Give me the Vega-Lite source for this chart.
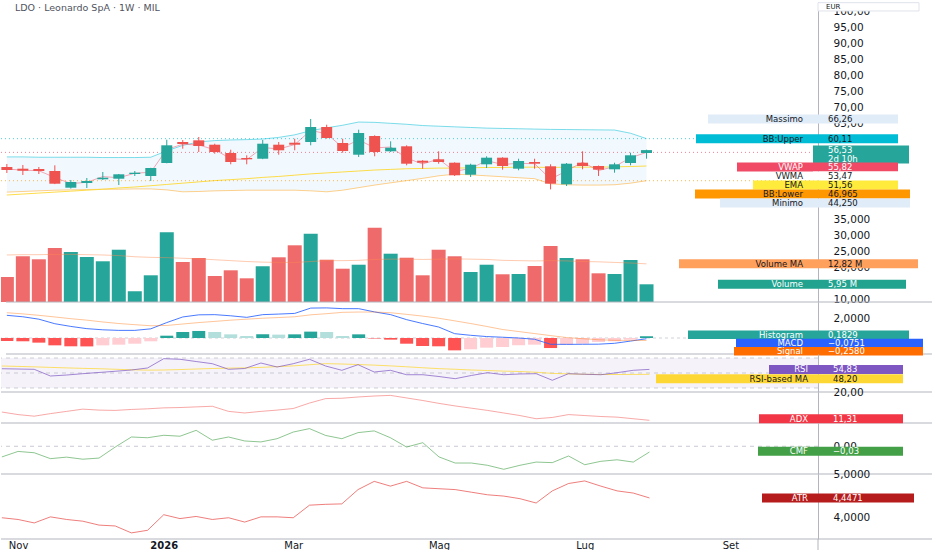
{
"$schema": "https://vega.github.io/schema/vega-lite/v6.json",
"background": "#ffffff",
"padding": 0,
"spacing": 0,
"bounds": "flush",
"config": {"view": {"stroke": null}, "font": "DejaVu Sans", "text": {"font": "DejaVu Sans"},
 "axis": {"title": null, "ticks": false, "grid": false, "domainColor": "#b2b5be", "labelFont": "DejaVu Sans", "labelColor": "#131722", "labelFontSize": 10.5, "labelOverlap": false}},
"resolve": {"scale": {"color": "independent", "fill": "independent", "shape": "independent"}},
"datasets": {
"w": [
{"date":"2025-10-27","open":51.25,"high":52.19,"low":49.38,"close":50.31,"vol":8.4,"vol_ma":15.8,"bb_up":54.4,"bb_lo":43.4,"ema":42.5,"vwap":50.63,"macd":2.35,"signal":2.62,"hist":-0.3,"rsi":55.7,"rsi_ma":59.3,"adx":13.9,"cmf":-0.056,"atr":3.99},
{"date":"2025-11-03","open":50.72,"high":51.88,"low":48.75,"close":50.09,"vol":15.36,"vol_ma":15.9,"bb_up":54.4,"bb_lo":43.6,"ema":42.8,"vwap":50.24,"macd":2.2,"signal":2.5,"hist":-0.34,"rsi":55.3,"rsi_ma":58.8,"adx":13.1,"cmf":-0.027,"atr":3.95},
{"date":"2025-11-10","open":50.63,"high":51.25,"low":49.06,"close":50.0,"vol":14.35,"vol_ma":15.9,"bb_up":54.3,"bb_lo":43.8,"ema":43.1,"vwap":50.1,"macd":1.95,"signal":2.35,"hist":-0.48,"rsi":54.9,"rsi_ma":58.2,"adx":12.6,"cmf":-0.034,"atr":3.87},
{"date":"2025-11-17","open":50.0,"high":51.78,"low":45.9,"close":46.03,"vol":18.14,"vol_ma":16.0,"bb_up":54.3,"bb_lo":44.0,"ema":43.4,"vwap":47.95,"macd":1.48,"signal":2.18,"hist":-0.76,"rsi":46.0,"rsi_ma":57.5,"adx":13.4,"cmf":-0.065,"atr":4.01},
{"date":"2025-11-24","open":44.78,"high":47.19,"low":44.5,"close":46.56,"vol":16.8,"vol_ma":16.0,"bb_up":54.3,"bb_lo":44.1,"ema":43.7,"vwap":46.08,"macd":1.2,"signal":2.0,"hist":-0.86,"rsi":47.3,"rsi_ma":56.8,"adx":14.1,"cmf":-0.057,"atr":3.95},
{"date":"2025-12-01","open":46.25,"high":47.81,"low":44.69,"close":46.88,"vol":15.12,"vol_ma":15.9,"bb_up":54.3,"bb_lo":44.2,"ema":44.0,"vwap":46.46,"macd":0.97,"signal":1.85,"hist":-0.87,"rsi":49.1,"rsi_ma":56.2,"adx":14.8,"cmf":-0.068,"atr":3.91},
{"date":"2025-12-08","open":47.41,"high":49.69,"low":47.19,"close":47.91,"vol":13.68,"vol_ma":15.8,"bb_up":54.2,"bb_lo":44.3,"ema":44.3,"vwap":48.26,"macd":0.85,"signal":1.66,"hist":-0.76,"rsi":50.7,"rsi_ma":55.7,"adx":14.5,"cmf":-0.062,"atr":3.82},
{"date":"2025-12-15","open":47.59,"high":49.06,"low":45.63,"close":48.97,"vol":17.57,"vol_ma":15.6,"bb_up":54.2,"bb_lo":44.3,"ema":44.7,"vwap":47.89,"macd":0.79,"signal":1.5,"hist":-0.69,"rsi":52.3,"rsi_ma":55.0,"adx":14.4,"cmf":-0.004,"atr":3.8},
{"date":"2025-12-22","open":49.06,"high":50.0,"low":48.44,"close":49.47,"vol":3.6,"vol_ma":15.2,"bb_up":54.2,"bb_lo":44.4,"ema":45.0,"vwap":49.3,"macd":0.79,"signal":1.38,"hist":-0.59,"rsi":54.0,"rsi_ma":54.3,"adx":14.7,"cmf":0.049,"atr":3.64},
{"date":"2025-12-29","open":48.44,"high":51.0,"low":46.88,"close":50.94,"vol":8.97,"vol_ma":15.0,"bb_up":54.3,"bb_lo":44.4,"ema":45.4,"vwap":49.61,"macd":0.95,"signal":1.27,"hist":-0.34,"rsi":56.7,"rsi_ma":53.8,"adx":14.9,"cmf":0.045,"atr":3.7},
{"date":"2026-01-05","open":52.5,"high":59.78,"low":52.4,"close":58.03,"vol":23.42,"vol_ma":14.9,"bb_up":56.3,"bb_lo":44.1,"ema":45.8,"vwap":56.77,"macd":1.6,"signal":1.3,"hist":0.24,"rsi":69.1,"rsi_ma":54.0,"adx":15.2,"cmf":0.058,"atr":4.06},
{"date":"2026-01-12","open":59.06,"high":59.69,"low":56.97,"close":58.44,"vol":13.44,"vol_ma":14.7,"bb_up":58.0,"bb_lo":43.5,"ema":46.2,"vwap":58.37,"macd":2.18,"signal":1.45,"hist":0.62,"rsi":68.3,"rsi_ma":54.6,"adx":15.3,"cmf":0.053,"atr":3.97},
{"date":"2026-01-19","open":59.59,"high":60.63,"low":55.94,"close":57.81,"vol":14.78,"vol_ma":14.5,"bb_up":59.1,"bb_lo":43.6,"ema":46.6,"vwap":58.13,"macd":2.4,"signal":1.6,"hist":0.73,"rsi":65.3,"rsi_ma":55.3,"adx":15.5,"cmf":0.084,"atr":4.02},
{"date":"2026-01-26","open":58.22,"high":58.53,"low":55.41,"close":55.94,"vol":8.74,"vol_ma":14.2,"bb_up":59.5,"bb_lo":43.8,"ema":47.0,"vwap":56.63,"macd":2.42,"signal":1.72,"hist":0.62,"rsi":62.4,"rsi_ma":56.0,"adx":15.7,"cmf":0.032,"atr":3.95},
{"date":"2026-02-02","open":55.63,"high":56.66,"low":52.09,"close":52.81,"vol":10.65,"vol_ma":13.9,"bb_up":59.7,"bb_lo":43.9,"ema":47.3,"vwap":53.85,"macd":2.3,"signal":1.85,"hist":0.38,"rsi":54.9,"rsi_ma":56.5,"adx":14.1,"cmf":0.049,"atr":3.99},
{"date":"2026-02-09","open":54.06,"high":54.91,"low":52.09,"close":53.66,"vol":7.96,"vol_ma":13.6,"bb_up":59.8,"bb_lo":44.0,"ema":47.6,"vwap":53.55,"macd":2.14,"signal":1.95,"hist":0.21,"rsi":56.0,"rsi_ma":56.8,"adx":13.6,"cmf":0.028,"atr":3.89},
{"date":"2026-02-16","open":53.84,"high":59.69,"low":53.7,"close":58.53,"vol":12.0,"vol_ma":13.4,"bb_up":60.0,"bb_lo":44.0,"ema":48.0,"vwap":57.35,"macd":2.42,"signal":2.05,"hist":0.38,"rsi":63.3,"rsi_ma":57.5,"adx":14.1,"cmf":0.023,"atr":4.01},
{"date":"2026-02-23","open":58.22,"high":59.06,"low":55.09,"close":56.47,"vol":15.02,"vol_ma":13.3,"bb_up":60.5,"bb_lo":44.0,"ema":48.3,"vwap":56.87,"macd":2.48,"signal":2.12,"hist":0.35,"rsi":58.0,"rsi_ma":58.5,"adx":14.5,"cmf":0.04,"atr":4.01},
{"date":"2026-03-02","open":58.84,"high":60.09,"low":56.47,"close":58.22,"vol":19.05,"vol_ma":13.3,"bb_up":61.3,"bb_lo":44.0,"ema":48.7,"vwap":58.26,"macd":2.55,"signal":2.2,"hist":0.38,"rsi":62.4,"rsi_ma":59.5,"adx":15.0,"cmf":0.075,"atr":3.99},
{"date":"2026-03-09","open":59.06,"high":66.26,"low":58.03,"close":63.75,"vol":22.95,"vol_ma":13.6,"bb_up":62.6,"bb_lo":43.8,"ema":49.1,"vwap":62.68,"macd":3.1,"signal":2.4,"hist":0.66,"rsi":68.3,"rsi_ma":61.0,"adx":16.7,"cmf":0.093,"atr":4.28},
{"date":"2026-03-16","open":63.75,"high":64.47,"low":60.09,"close":60.31,"vol":14.21,"vol_ma":13.9,"bb_up":63.5,"bb_lo":43.5,"ema":49.4,"vwap":61.62,"macd":3.12,"signal":2.52,"hist":0.62,"rsi":59.3,"rsi_ma":62.5,"adx":18.1,"cmf":0.057,"atr":4.3},
{"date":"2026-03-23","open":58.75,"high":60.09,"low":55.72,"close":56.25,"vol":11.19,"vol_ma":13.9,"bb_up":64.3,"bb_lo":44.0,"ema":49.7,"vwap":57.35,"macd":3.04,"signal":2.66,"hist":0.21,"rsi":53.6,"rsi_ma":62.0,"adx":18.2,"cmf":0.04,"atr":4.31},
{"date":"2026-03-30","open":55.09,"high":62.91,"low":54.38,"close":61.88,"vol":12.53,"vol_ma":14.0,"bb_up":65.3,"bb_lo":44.8,"ema":50.0,"vwap":59.72,"macd":3.04,"signal":2.69,"hist":0.38,"rsi":61.1,"rsi_ma":61.3,"adx":18.6,"cmf":0.072,"atr":4.64},
{"date":"2026-04-06","open":60.94,"high":61.16,"low":54.59,"close":55.94,"vol":24.96,"vol_ma":14.3,"bb_up":65.2,"bb_lo":45.6,"ema":50.3,"vwap":57.23,"macd":2.7,"signal":2.69,"hist":-0.05,"rsi":51.3,"rsi_ma":60.5,"adx":18.9,"cmf":0.081,"atr":4.83},
{"date":"2026-04-13","open":56.16,"high":59.28,"low":55.94,"close":57.28,"vol":16.23,"vol_ma":14.4,"bb_up":64.9,"bb_lo":46.3,"ema":50.5,"vwap":57.5,"macd":2.42,"signal":2.62,"hist":-0.17,"rsi":53.6,"rsi_ma":59.5,"adx":19.1,"cmf":0.045,"atr":4.72},
{"date":"2026-04-20","open":57.72,"high":58.03,"low":51.78,"close":52.28,"vol":14.88,"vol_ma":14.4,"bb_up":64.6,"bb_lo":47.0,"ema":50.7,"vwap":54.03,"macd":1.9,"signal":2.45,"hist":-0.59,"rsi":47.7,"rsi_ma":58.3,"adx":18.3,"cmf":-0.004,"atr":4.83},
{"date":"2026-04-27","open":53.22,"high":53.4,"low":50.72,"close":52.59,"vol":8.97,"vol_ma":14.3,"bb_up":64.2,"bb_lo":47.7,"ema":50.8,"vwap":52.18,"macd":1.5,"signal":2.27,"hist":-0.83,"rsi":47.7,"rsi_ma":57.0,"adx":17.5,"cmf":0.019,"atr":4.68},
{"date":"2026-05-04","open":53.66,"high":56.16,"low":52.28,"close":52.81,"vol":17.57,"vol_ma":14.4,"bb_up":64.0,"bb_lo":48.5,"ema":50.9,"vwap":53.75,"macd":1.14,"signal":2.05,"hist":-0.86,"rsi":45.3,"rsi_ma":55.8,"adx":16.6,"cmf":-0.056,"atr":4.66},
{"date":"2026-05-11","open":52.59,"high":52.7,"low":48.44,"close":48.66,"vol":15.36,"vol_ma":14.5,"bb_up":63.8,"bb_lo":49.0,"ema":50.9,"vwap":49.9,"macd":0.45,"signal":1.78,"hist":-1.28,"rsi":42.4,"rsi_ma":55.0,"adx":15.8,"cmf":-0.088,"atr":4.64},
{"date":"2026-05-18","open":48.84,"high":52.28,"low":48.13,"close":51.97,"vol":10.08,"vol_ma":14.4,"bb_up":63.6,"bb_lo":48.8,"ema":51.0,"vwap":50.79,"macd":0.28,"signal":1.5,"hist":-1.17,"rsi":46.7,"rsi_ma":54.0,"adx":15.1,"cmf":-0.088,"atr":4.58},
{"date":"2026-05-25","open":52.09,"high":54.59,"low":50.94,"close":54.16,"vol":12.53,"vol_ma":14.3,"bb_up":63.4,"bb_lo":48.5,"ema":51.1,"vwap":53.23,"macd":0.15,"signal":1.2,"hist":-1.0,"rsi":50.4,"rsi_ma":53.3,"adx":14.4,"cmf":-0.1,"atr":4.52},
{"date":"2026-06-01","open":54.16,"high":54.3,"low":50.41,"close":51.56,"vol":9.31,"vol_ma":14.0,"bb_up":63.3,"bb_lo":48.2,"ema":51.1,"vwap":52.04,"macd":0.08,"signal":0.88,"hist":-0.93,"rsi":47.7,"rsi_ma":52.5,"adx":13.6,"cmf":-0.121,"atr":4.49},
{"date":"2026-06-08","open":50.72,"high":53.84,"low":50.22,"close":53.13,"vol":9.41,"vol_ma":13.9,"bb_up":63.2,"bb_lo":47.9,"ema":51.2,"vwap":52.4,"macd":0.0,"signal":0.67,"hist":-0.76,"rsi":48.7,"rsi_ma":52.0,"adx":12.8,"cmf":-0.1,"atr":4.43},
{"date":"2026-06-15","open":52.81,"high":53.84,"low":50.72,"close":52.28,"vol":12.1,"vol_ma":13.8,"bb_up":63.1,"bb_lo":47.6,"ema":51.2,"vwap":52.28,"macd":-0.13,"signal":0.46,"hist":-0.69,"rsi":49.1,"rsi_ma":51.0,"adx":11.8,"cmf":-0.083,"atr":4.33},
{"date":"2026-06-22","open":51.47,"high":52.09,"low":44.25,"close":46.03,"vol":18.82,"vol_ma":13.9,"bb_up":63.0,"bb_lo":46.0,"ema":51.1,"vwap":47.46,"macd":-0.65,"signal":0.25,"hist":-1.04,"rsi":40.3,"rsi_ma":49.5,"adx":12.2,"cmf":-0.086,"atr":4.61},
{"date":"2026-06-29","open":45.84,"high":52.5,"low":45.31,"close":52.28,"vol":14.78,"vol_ma":13.8,"bb_up":62.95,"bb_lo":45.7,"ema":51.2,"vwap":50.03,"macd":-0.66,"signal":0.05,"hist":-0.69,"rsi":49.1,"rsi_ma":48.8,"adx":13.1,"cmf":-0.051,"atr":4.78},
{"date":"2026-07-06","open":52.59,"high":56.16,"low":50.53,"close":51.56,"vol":14.35,"vol_ma":13.6,"bb_up":62.9,"bb_lo":45.6,"ema":51.2,"vwap":52.75,"macd":-0.65,"signal":-0.07,"hist":-0.59,"rsi":48.3,"rsi_ma":48.3,"adx":12.8,"cmf":-0.097,"atr":4.84},
{"date":"2026-07-13","open":51.56,"high":51.7,"low":48.44,"close":50.41,"vol":9.64,"vol_ma":13.5,"bb_up":62.85,"bb_lo":45.6,"ema":51.2,"vwap":50.14,"macd":-0.64,"signal":-0.18,"hist":-0.41,"rsi":47.7,"rsi_ma":48.0,"adx":12.5,"cmf":-0.079,"atr":4.72},
{"date":"2026-07-20","open":50.53,"high":52.59,"low":49.47,"close":52.09,"vol":9.41,"vol_ma":13.3,"bb_up":62.8,"bb_lo":45.7,"ema":51.3,"vwap":51.38,"macd":-0.55,"signal":-0.24,"hist":-0.34,"rsi":50.4,"rsi_ma":48.0,"adx":12.3,"cmf":-0.071,"atr":4.61},
{"date":"2026-07-27","open":52.5,"high":55.72,"low":51.78,"close":54.91,"vol":14.11,"vol_ma":13.1,"bb_up":61.8,"bb_lo":46.2,"ema":51.4,"vwap":54.14,"macd":-0.32,"signal":-0.25,"hist":-0.17,"rsi":53.6,"rsi_ma":48.1,"adx":11.8,"cmf":-0.083,"atr":4.56},
{"date":"2026-08-03","open":55.63,"high":56.66,"low":53.84,"close":56.53,"vol":5.95,"vol_ma":12.82,"bb_up":60.11,"bb_lo":46.965,"ema":51.56,"vwap":55.82,"macd":-0.0751,"signal":-0.258,"hist":0.1829,"rsi":54.83,"rsi_ma":48.2,"adx":11.31,"cmf":-0.03,"atr":4.4471}
],
"tags": [
{"pane":"price","name":"Massimo","value":66.26,"label":"66,26","at":66.26},
{"pane":"price","name":"BB:Upper","value":60.11,"label":"60,11","at":60.11},
{"pane":"price","name":"Last","value":56.53,"label":"56,53","sub":"2d 10h","at":56.53},
{"pane":"price","name":"VWAP","value":55.82,"label":"55,82","at":51.25},
{"pane":"price","name":"VWMA","value":53.47,"label":"53,47","at":48.44},
{"pane":"price","name":"EMA","value":51.56,"label":"51,56","at":45.63},
{"pane":"price","name":"BB:Lower","value":46.965,"label":"46,965","at":42.81},
{"pane":"price","name":"Minimo","value":44.25,"label":"44,250","at":40.0},
{"pane":"volume","name":"Volume MA","value":12.82,"label":"12,82 M","at":12.82},
{"pane":"volume","name":"Volume","value":5.95,"label":"5,95 M","at":5.95},
{"pane":"macd","name":"Histogram","value":0.1829,"label":"0,1829","at":0.33},
{"pane":"macd","name":"MACD","value":-0.0751,"label":"−0,0751","at":-0.5},
{"pane":"macd","name":"Signal","value":-0.258,"label":"−0,2580","at":-1.38},
{"pane":"rsi","name":"RSI","value":54.83,"label":"54,83","at":54.83},
{"pane":"rsi","name":"RSI-based MA","value":48.2,"label":"48,20","at":42.4},
{"pane":"adx","name":"ADX","value":11.31,"label":"11,31","at":11.8},
{"pane":"cmf","name":"CMF","value":-0.03,"label":"−0,03","at":-0.026},
{"pane":"atr","name":"ATR","value":4.4471,"label":"4,4471","at":4.4471}
],
"levels": [{"level":70},{"level":50},{"level":30}]
},
"vconcat": [
{
"width": 817, "height": 300,
"resolve": {"scale": {"y": "independent", "fill": "independent", "shape": "independent", "color": "independent"}, "axis": {"y": "independent"}},
"layer": [
{
"data": {"name": "w"},
"layer": [
{"mark": {"type": "bar", "size": 14, "clip": true},
 "encoding": {"x": {"field":"date","type":"temporal","scale":{"type":"utc","domain":[{"year":2025,"month":10,"date":26,"hours":15,"utc":true},{"year":2026,"month":10,"date":14,"hours":21,"utc":true}]},"axis":null},
  "y": {"field": "vol", "type": "quantitative", "scale": {"domain": [0, 100.8], "nice": false, "zero": false}, "axis": null},
  "color": {"condition": {"test": "datum.close >= datum.open", "value": "#26a69a"}, "value": "#ef6a6a"}}},
{"mark": {"type": "line", "color": "#ff8a50", "opacity": 0.45, "strokeWidth": 1, "clip": true},
 "encoding": {"x": {"field":"date","type":"temporal","scale":{"type":"utc","domain":[{"year":2025,"month":10,"date":26,"hours":15,"utc":true},{"year":2026,"month":10,"date":14,"hours":21,"utc":true}]},"axis":null},
  "y": {"field": "vol_ma", "type": "quantitative", "scale": {"domain": [0, 100.8], "nice": false, "zero": false}, "axis": null}}},
{"data": {"name": "tags"}, "transform": [{"filter": "datum.pane == 'volume'"}],
 "mark": {"type": "point", "filled": true, "size": 4, "opacity": 1, "strokeWidth": 0, "clip": false},
 "encoding": {"x": {"datum":{"year":2026,"month":10,"date":14,"hours":21,"utc":true},"type":"temporal","scale":{"type":"utc","domain":[{"year":2025,"month":10,"date":26,"hours":15,"utc":true},{"year":2026,"month":10,"date":14,"hours":21,"utc":true}]},"axis":null},
  "y": {"field": "at", "type": "quantitative", "scale": {"domain": [0, 100.8], "nice": false, "zero": false}, "axis": null},
  "shape": {"field": "name", "type": "nominal", "scale": {"domain": ["Volume MA", "Volume"], "range": ["M-134,-4.5H105V4.5H-134Z", "M-95,-4.5H93V4.5H-95Z"]}, "legend": null},
  "fill": {"field": "name", "type": "nominal", "scale": {"domain": ["Volume MA", "Volume"], "range": ["#ffa05c", "#22a38f"]}, "legend": null}}},
{"data": {"name": "tags"}, "transform": [{"filter": "datum.pane == 'volume'"}],
 "mark": {"type": "text", "align": "right", "baseline": "middle", "dx": -10, "fontSize": 8.5, "clip": false},
 "encoding": {"x": {"datum":{"year":2026,"month":10,"date":14,"hours":21,"utc":true},"type":"temporal","scale":{"type":"utc","domain":[{"year":2025,"month":10,"date":26,"hours":15,"utc":true},{"year":2026,"month":10,"date":14,"hours":21,"utc":true}]},"axis":null},
  "y": {"field": "at", "type": "quantitative", "scale": {"domain": [0, 100.8], "nice": false, "zero": false}, "axis": null},
  "text": {"field": "name"},
  "color": {"condition": {"test": "datum.name == 'Volume MA'", "value": "#131722"}, "value": "#ffffff"}}},
{"data": {"name": "tags"}, "transform": [{"filter": "datum.pane == 'volume'"}],
 "mark": {"type": "text", "align": "left", "baseline": "middle", "dx": 15, "fontSize": 8.5, "clip": false},
 "encoding": {"x": {"datum":{"year":2026,"month":10,"date":14,"hours":21,"utc":true},"type":"temporal","scale":{"type":"utc","domain":[{"year":2025,"month":10,"date":26,"hours":15,"utc":true},{"year":2026,"month":10,"date":14,"hours":21,"utc":true}]},"axis":null},
  "y": {"field": "at", "type": "quantitative", "scale": {"domain": [0, 100.8], "nice": false, "zero": false}, "axis": null},
  "text": {"field": "label"},
  "color": {"condition": {"test": "datum.name == 'Volume MA'", "value": "#131722"}, "value": "#ffffff"}}}
]
},
{
"data": {"name": "w"},
"resolve": {"scale": {"y": "independent"}, "axis": {"y": "independent"}},
"layer": [
{"mark": {"type": "area", "color": "#2196f3", "opacity": 0.06, "clip": true},
 "encoding": {"x": {"field":"date","type":"temporal","scale":{"type":"utc","domain":[{"year":2025,"month":10,"date":26,"hours":15,"utc":true},{"year":2026,"month":10,"date":14,"hours":21,"utc":true}]},"axis":null},
  "y": {"field": "bb_up", "type": "quantitative", "scale": {"domain": [9.0625, 102.8125], "nice": false, "zero": false},
   "axis": {"orient": "right", "values": [100,95,90,85,80,75,70,65,35,30,25,20,10], "labelExpr": "replace(format(datum.value, datum.value >= 40 ? '.2f' : '.3f'), '.', ',')", "title": null, "ticks": false, "grid": false, "domainColor": "#b2b5be", "labelPadding": 15, "labelFontSize": 10.5, "labelColor": "#131722", "labelAlign": "left", "labelOverlap": false, "labelFont": "DejaVu Sans"}},
  "y2": {"field": "bb_lo"}}},
{"mark": {"type": "line", "color": "#26c6da", "opacity": 0.6, "strokeWidth": 1, "clip": true},
 "encoding": {"x": {"field":"date","type":"temporal","scale":{"type":"utc","domain":[{"year":2025,"month":10,"date":26,"hours":15,"utc":true},{"year":2026,"month":10,"date":14,"hours":21,"utc":true}]},"axis":null},
  "y": {"field": "bb_up", "type": "quantitative", "scale": {"domain": [9.0625, 102.8125], "nice": false, "zero": false}, "axis": null}}},
{"mark": {"type": "line", "color": "#ff9800", "opacity": 0.45, "strokeWidth": 1, "clip": true},
 "encoding": {"x": {"field":"date","type":"temporal","scale":{"type":"utc","domain":[{"year":2025,"month":10,"date":26,"hours":15,"utc":true},{"year":2026,"month":10,"date":14,"hours":21,"utc":true}]},"axis":null},
  "y": {"field": "bb_lo", "type": "quantitative", "scale": {"domain": [9.0625, 102.8125], "nice": false, "zero": false}, "axis": null}}},
{"mark": {"type": "line", "color": "#fdd835", "opacity": 0.9, "strokeWidth": 1, "clip": true},
 "encoding": {"x": {"field":"date","type":"temporal","scale":{"type":"utc","domain":[{"year":2025,"month":10,"date":26,"hours":15,"utc":true},{"year":2026,"month":10,"date":14,"hours":21,"utc":true}]},"axis":null},
  "y": {"field": "ema", "type": "quantitative", "scale": {"domain": [9.0625, 102.8125], "nice": false, "zero": false}, "axis": null}}},
{"mark": {"type": "line", "color": "#ef5f7a", "opacity": 0.55, "strokeWidth": 1, "clip": true},
 "encoding": {"x": {"field":"date","type":"temporal","scale":{"type":"utc","domain":[{"year":2025,"month":10,"date":26,"hours":15,"utc":true},{"year":2026,"month":10,"date":14,"hours":21,"utc":true}]},"axis":null},
  "y": {"field": "vwap", "type": "quantitative", "scale": {"domain": [9.0625, 102.8125], "nice": false, "zero": false}, "axis": null}}},
{"data": {"name": "tags"}, "transform": [{"filter": "indexof(['BB:Upper','VWAP','BB:Lower'], datum.name) >= 0"}],
 "mark": {"type": "rule", "strokeDash": [1, 3], "strokeWidth": 1, "opacity": 0.7},
 "encoding": {"y": {"field": "value", "type": "quantitative", "scale": {"domain": [9.0625, 102.8125], "nice": false, "zero": false}, "axis": null},
  "color": {"field": "name", "type": "nominal", "scale": {"domain": ["BB:Upper", "VWAP", "BB:Lower"], "range": ["#00bcd4", "#f04a67", "#ff9800"]}, "legend": null}}},
{"mark": {"type": "rule", "strokeWidth": 1, "clip": true},
 "encoding": {"x": {"field":"date","type":"temporal","scale":{"type":"utc","domain":[{"year":2025,"month":10,"date":26,"hours":15,"utc":true},{"year":2026,"month":10,"date":14,"hours":21,"utc":true}]},"axis":null},
  "y": {"field": "low", "type": "quantitative", "scale": {"domain": [9.0625, 102.8125], "nice": false, "zero": false}, "axis": null},
  "y2": {"field": "high"},
  "color": {"condition": {"test": "datum.close >= datum.open", "value": "#26a69a"}, "value": "#ef5350"}}},
{"mark": {"type": "bar", "size": 11, "clip": true},
 "encoding": {"x": {"field":"date","type":"temporal","scale":{"type":"utc","domain":[{"year":2025,"month":10,"date":26,"hours":15,"utc":true},{"year":2026,"month":10,"date":14,"hours":21,"utc":true}]},"axis":null},
  "y": {"field": "open", "type": "quantitative", "scale": {"domain": [9.0625, 102.8125], "nice": false, "zero": false}, "axis": null},
  "y2": {"field": "close"},
  "color": {"condition": {"test": "datum.close >= datum.open", "value": "#26a69a"}, "value": "#ef5350"}}},
{"data": {"values": [{}]}, "mark": {"type": "rule", "color": "#b2b5be", "strokeWidth": 1, "clip": false},
 "encoding": {"x": {"datum":{"year":2025,"month":10,"date":26,"hours":15,"utc":true},"type":"temporal","scale":{"type":"utc","domain":[{"year":2025,"month":10,"date":26,"hours":15,"utc":true},{"year":2026,"month":10,"date":14,"hours":21,"utc":true}]},"axis":null},
  "x2": {"datum": {"year":2026,"month":12,"date":8,"utc":true}},
  "y": {"datum": 9.0625, "type": "quantitative", "scale": {"domain": [9.0625, 102.8125], "nice": false, "zero": false}, "axis": null}}},
{"data": {"values": [{"t": "LDO · Leonardo SpA · 1W · MIL"}]},
 "mark": {"type": "text", "align": "left", "baseline": "middle", "dx": 9, "fontSize": 9.5, "color": "#50535e", "clip": false},
 "encoding": {"x": {"datum":{"year":2025,"month":10,"date":26,"hours":15,"utc":true},"type":"temporal","scale":{"type":"utc","domain":[{"year":2025,"month":10,"date":26,"hours":15,"utc":true},{"year":2026,"month":10,"date":14,"hours":21,"utc":true}]},"axis":null},
  "y": {"datum": 100.8, "type": "quantitative", "scale": {"domain": [9.0625, 102.8125], "nice": false, "zero": false}, "axis": null},
  "text": {"field": "t"}}},
{"data": {"values": [{"t": "EUR"}]},
 "mark": {"type": "point", "shape": "M5,-4H106V4.3H5Z", "size": 4, "fill": "#ffffff", "stroke": "#e0e3eb", "strokeWidth": 1, "opacity": 1, "clip": false},
 "encoding": {"x": {"datum":{"year":2026,"month":10,"date":14,"hours":21,"utc":true},"type":"temporal","scale":{"type":"utc","domain":[{"year":2025,"month":10,"date":26,"hours":15,"utc":true},{"year":2026,"month":10,"date":14,"hours":21,"utc":true}]},"axis":null},
  "y": {"datum": 101.35, "type": "quantitative", "scale": {"domain": [9.0625, 102.8125], "nice": false, "zero": false}, "axis": null}}},
{"data": {"values": [{"t": "EUR"}]},
 "mark": {"type": "text", "align": "left", "baseline": "middle", "dx": 13, "fontSize": 7, "color": "#131722", "clip": false},
 "encoding": {"x": {"datum":{"year":2026,"month":10,"date":14,"hours":21,"utc":true},"type":"temporal","scale":{"type":"utc","domain":[{"year":2025,"month":10,"date":26,"hours":15,"utc":true},{"year":2026,"month":10,"date":14,"hours":21,"utc":true}]},"axis":null},
  "y": {"datum": 101.35, "type": "quantitative", "scale": {"domain": [9.0625, 102.8125], "nice": false, "zero": false}, "axis": null},
  "text": {"field": "t"}}},
{"data": {"name": "tags"}, "transform": [{"filter": "datum.pane == 'price'"}],
 "mark": {"type": "point", "filled": true, "size": 4, "opacity": 1, "strokeWidth": 0, "clip": false},
 "encoding": {"x": {"datum":{"year":2026,"month":10,"date":14,"hours":21,"utc":true},"type":"temporal","scale":{"type":"utc","domain":[{"year":2025,"month":10,"date":26,"hours":15,"utc":true},{"year":2026,"month":10,"date":14,"hours":21,"utc":true}]},"axis":null},
  "y": {"field": "at", "type": "quantitative", "scale": {"domain": [9.0625, 102.8125], "nice": false, "zero": false}, "axis": null},
  "shape": {"field": "name", "type": "nominal", "scale": {"domain": ["Massimo","BB:Upper","Last","VWAP","VWMA","EMA","BB:Lower","Minimo"], "range": ["M-105,-4.5H85V4.5H-105Z","M-117,-4.5H85V4.5H-117Z","M0,-4.5H96V13.5H0Z","M-76,-4.5H85V4.5H-76Z","M0,-4.5H85V4.5H0Z","M-60,-4.5H85V4.5H-60Z","M-118,-4.5H97V4.5H-118Z","M-93,-4.5H97V4.5H-93Z"]}, "legend": null},
  "fill": {"field": "name", "type": "nominal", "scale": {"domain": ["Massimo","BB:Upper","Last","VWAP","VWMA","EMA","BB:Lower","Minimo"], "range": ["#e1ecf9","#00bcd4","#26a69a","#f04a67","#ffffff","#ffeb3b","#ff9800","#e1ecf9"]}, "legend": null}}},
{"data": {"name": "tags"}, "transform": [{"filter": "datum.pane == 'price' && datum.name != 'Last'"}],
 "mark": {"type": "text", "align": "right", "baseline": "middle", "dx": -10, "fontSize": 8.5, "clip": false},
 "encoding": {"x": {"datum":{"year":2026,"month":10,"date":14,"hours":21,"utc":true},"type":"temporal","scale":{"type":"utc","domain":[{"year":2025,"month":10,"date":26,"hours":15,"utc":true},{"year":2026,"month":10,"date":14,"hours":21,"utc":true}]},"axis":null},
  "y": {"field": "at", "type": "quantitative", "scale": {"domain": [9.0625, 102.8125], "nice": false, "zero": false}, "axis": null},
  "text": {"field": "name"},
  "color": {"condition": {"test": "datum.name == 'VWAP'", "value": "#ffffff"}, "value": "#131722"}}},
{"data": {"name": "tags"}, "transform": [{"filter": "datum.pane == 'price'"}],
 "mark": {"type": "text", "align": "left", "baseline": "middle", "dx": 15, "fontSize": 8.5, "clip": false},
 "encoding": {"x": {"datum":{"year":2026,"month":10,"date":14,"hours":21,"utc":true},"type":"temporal","scale":{"type":"utc","domain":[{"year":2025,"month":10,"date":26,"hours":15,"utc":true},{"year":2026,"month":10,"date":14,"hours":21,"utc":true}]},"axis":null},
  "y": {"field": "at", "type": "quantitative", "scale": {"domain": [9.0625, 102.8125], "nice": false, "zero": false}, "axis": null},
  "text": {"field": "label"},
  "color": {"condition": {"test": "datum.name == 'VWAP' || datum.name == 'Last'", "value": "#ffffff"}, "value": "#131722"}}},
{"data": {"name": "tags"}, "transform": [{"filter": "datum.pane == 'price' && isValid(datum.sub)"}],
 "mark": {"type": "text", "align": "left", "baseline": "middle", "dx": 15, "dy": 9, "fontSize": 8.5, "color": "#ffffff", "clip": false},
 "encoding": {"x": {"datum":{"year":2026,"month":10,"date":14,"hours":21,"utc":true},"type":"temporal","scale":{"type":"utc","domain":[{"year":2025,"month":10,"date":26,"hours":15,"utc":true},{"year":2026,"month":10,"date":14,"hours":21,"utc":true}]},"axis":null},
  "y": {"field": "at", "type": "quantitative", "scale": {"domain": [9.0625, 102.8125], "nice": false, "zero": false}, "axis": null},
  "text": {"field": "sub"}}}
]
}
]
},
{
"width": 817, "height": 52,
"data": {"name": "w"},
"transform": [{"window": [{"op": "lag", "field": "hist", "as": "prev"}], "sort": [{"field": "date", "order": "ascending"}]}],
"layer": [
{"data": {"values": [{}]}, "mark": {"type": "rule", "color": "#b2b5be", "strokeDash": [3, 3], "strokeWidth": 1, "opacity": 0.6},
 "encoding": {"y": {"datum": 0, "type": "quantitative", "scale": {"domain": [-1.658, 3.731], "nice": false, "zero": false},
   "axis": {"orient": "right", "values": [2], "labelExpr": "replace(format(datum.value, '.4f'), '.', ',')", "title": null, "ticks": false, "grid": false, "domainColor": "#b2b5be", "labelPadding": 15, "labelFontSize": 10.5, "labelColor": "#131722", "labelAlign": "left", "labelOverlap": false, "labelFont": "DejaVu Sans"}}}},
{"mark": {"type": "bar", "size": 13, "clip": true},
 "encoding": {"x": {"field":"date","type":"temporal","scale":{"type":"utc","domain":[{"year":2025,"month":10,"date":26,"hours":15,"utc":true},{"year":2026,"month":10,"date":14,"hours":21,"utc":true}]},"axis":null},
  "y": {"field": "hist", "type": "quantitative", "scale": {"domain": [-1.658, 3.731], "nice": false, "zero": false}},
  "y2": {"datum": 0},
  "color": {"condition": [{"test": "datum.hist >= 0 && datum.hist >= datum.prev", "value": "#26a69a"}, {"test": "datum.hist >= 0", "value": "#b2dfdb"}, {"test": "datum.hist < datum.prev", "value": "#ff5252"}], "value": "#ffcdd2"}}},
{"mark": {"type": "line", "color": "#2962ff", "opacity": 0.85, "strokeWidth": 1, "clip": true},
 "encoding": {"x": {"field":"date","type":"temporal","scale":{"type":"utc","domain":[{"year":2025,"month":10,"date":26,"hours":15,"utc":true},{"year":2026,"month":10,"date":14,"hours":21,"utc":true}]},"axis":null},
  "y": {"field": "macd", "type": "quantitative", "scale": {"domain": [-1.658, 3.731], "nice": false, "zero": false}}}},
{"mark": {"type": "line", "color": "#ff6d00", "opacity": 0.4, "strokeWidth": 1, "clip": true},
 "encoding": {"x": {"field":"date","type":"temporal","scale":{"type":"utc","domain":[{"year":2025,"month":10,"date":26,"hours":15,"utc":true},{"year":2026,"month":10,"date":14,"hours":21,"utc":true}]},"axis":null},
  "y": {"field": "signal", "type": "quantitative", "scale": {"domain": [-1.658, 3.731], "nice": false, "zero": false}}}},
{"data": {"values": [{}]}, "mark": {"type": "rule", "color": "#b2b5be", "strokeWidth": 1, "clip": false},
 "encoding": {"x": {"datum":{"year":2025,"month":10,"date":26,"hours":15,"utc":true},"type":"temporal","scale":{"type":"utc","domain":[{"year":2025,"month":10,"date":26,"hours":15,"utc":true},{"year":2026,"month":10,"date":14,"hours":21,"utc":true}]},"axis":null},
  "x2": {"datum": {"year":2026,"month":12,"date":8,"utc":true}},
  "y": {"datum": -1.658, "type": "quantitative", "scale": {"domain": [-1.658, 3.731], "nice": false, "zero": false}}}},
{"data": {"name": "tags"}, "transform": [{"filter": "datum.pane == 'macd'"}],
 "mark": {"type": "point", "filled": true, "size": 4, "opacity": 1, "strokeWidth": 0, "clip": false},
 "encoding": {"x": {"datum":{"year":2026,"month":10,"date":14,"hours":21,"utc":true},"type":"temporal","scale":{"type":"utc","domain":[{"year":2025,"month":10,"date":26,"hours":15,"utc":true},{"year":2026,"month":10,"date":14,"hours":21,"utc":true}]},"axis":null},
  "y": {"field": "at", "type": "quantitative", "scale": {"domain": [-1.658, 3.731], "nice": false, "zero": false}},
  "shape": {"field": "name", "type": "nominal", "scale": {"domain": ["Histogram","MACD","Signal"], "range": ["M-125,-4.3H96V4.3H-125Z","M-77,-4.2H110V4.2H-77Z","M-79,-4.2H110V4.2H-79Z"]}, "legend": null},
  "fill": {"field": "name", "type": "nominal", "scale": {"domain": ["Histogram","MACD","Signal"], "range": ["#26a69a","#2962ff","#ff6d00"]}, "legend": null}}},
{"data": {"name": "tags"}, "transform": [{"filter": "datum.pane == 'macd'"}],
 "mark": {"type": "text", "align": "right", "baseline": "middle", "dx": -10, "fontSize": 8.5, "color": "#ffffff", "clip": false},
 "encoding": {"x": {"datum":{"year":2026,"month":10,"date":14,"hours":21,"utc":true},"type":"temporal","scale":{"type":"utc","domain":[{"year":2025,"month":10,"date":26,"hours":15,"utc":true},{"year":2026,"month":10,"date":14,"hours":21,"utc":true}]},"axis":null},
  "y": {"field": "at", "type": "quantitative", "scale": {"domain": [-1.658, 3.731], "nice": false, "zero": false}},
  "text": {"field": "name"}}},
{"data": {"name": "tags"}, "transform": [{"filter": "datum.pane == 'macd'"}],
 "mark": {"type": "text", "align": "left", "baseline": "middle", "dx": 15, "fontSize": 8.5, "color": "#ffffff", "clip": false},
 "encoding": {"x": {"datum":{"year":2026,"month":10,"date":14,"hours":21,"utc":true},"type":"temporal","scale":{"type":"utc","domain":[{"year":2025,"month":10,"date":26,"hours":15,"utc":true},{"year":2026,"month":10,"date":14,"hours":21,"utc":true}]},"axis":null},
  "y": {"field": "at", "type": "quantitative", "scale": {"domain": [-1.658, 3.731], "nice": false, "zero": false}},
  "text": {"field": "label"}}}
]
},
{
"width": 817, "height": 38,
"data": {"name": "w"},
"layer": [
{"data": {"values": [{}]}, "mark": {"type": "rect", "color": "#7e57c2", "opacity": 0.08, "clip": true},
 "encoding": {"x": {"datum":{"year":2025,"month":10,"date":26,"hours":15,"utc":true},"type":"temporal","scale":{"type":"utc","domain":[{"year":2025,"month":10,"date":26,"hours":15,"utc":true},{"year":2026,"month":10,"date":14,"hours":21,"utc":true}]},"axis":null},
  "x2": {"datum": {"year":2026,"month":10,"date":14,"hours":21,"utc":true}},
  "y": {"datum": 70, "type": "quantitative", "scale": {"domain": [24.667, 75.333], "nice": false, "zero": false},
   "axis": {"orient": "right", "values": [], "title": null, "ticks": false, "grid": false, "domainColor": "#b2b5be", "labels": false}},
  "y2": {"datum": 30}}},
{"data": {"name": "levels"}, "mark": {"type": "rule", "color": "#9598a1", "strokeDash": [4, 4], "strokeWidth": 1, "opacity": 0.45},
 "encoding": {"y": {"field": "level", "type": "quantitative", "scale": {"domain": [24.667, 75.333], "nice": false, "zero": false}}}},
{"mark": {"type": "line", "color": "#fdd835", "opacity": 0.75, "strokeWidth": 1, "clip": true},
 "encoding": {"x": {"field":"date","type":"temporal","scale":{"type":"utc","domain":[{"year":2025,"month":10,"date":26,"hours":15,"utc":true},{"year":2026,"month":10,"date":14,"hours":21,"utc":true}]},"axis":null},
  "y": {"field": "rsi_ma", "type": "quantitative", "scale": {"domain": [24.667, 75.333], "nice": false, "zero": false}}}},
{"mark": {"type": "line", "color": "#7e57c2", "opacity": 0.7, "strokeWidth": 1, "clip": true},
 "encoding": {"x": {"field":"date","type":"temporal","scale":{"type":"utc","domain":[{"year":2025,"month":10,"date":26,"hours":15,"utc":true},{"year":2026,"month":10,"date":14,"hours":21,"utc":true}]},"axis":null},
  "y": {"field": "rsi", "type": "quantitative", "scale": {"domain": [24.667, 75.333], "nice": false, "zero": false}}}},
{"data": {"values": [{}]}, "mark": {"type": "rule", "color": "#b2b5be", "strokeWidth": 1, "clip": false},
 "encoding": {"x": {"datum":{"year":2025,"month":10,"date":26,"hours":15,"utc":true},"type":"temporal","scale":{"type":"utc","domain":[{"year":2025,"month":10,"date":26,"hours":15,"utc":true},{"year":2026,"month":10,"date":14,"hours":21,"utc":true}]},"axis":null},
  "x2": {"datum": {"year":2026,"month":12,"date":8,"utc":true}},
  "y": {"datum": 24.667, "type": "quantitative", "scale": {"domain": [24.667, 75.333], "nice": false, "zero": false}}}},
{"data": {"name": "tags"}, "transform": [{"filter": "datum.pane == 'rsi'"}],
 "mark": {"type": "point", "filled": true, "size": 4, "opacity": 1, "strokeWidth": 0, "clip": false},
 "encoding": {"x": {"datum":{"year":2026,"month":10,"date":14,"hours":21,"utc":true},"type":"temporal","scale":{"type":"utc","domain":[{"year":2025,"month":10,"date":26,"hours":15,"utc":true},{"year":2026,"month":10,"date":14,"hours":21,"utc":true}]},"axis":null},
  "y": {"field": "at", "type": "quantitative", "scale": {"domain": [24.667, 75.333], "nice": false, "zero": false}},
  "shape": {"field": "name", "type": "nominal", "scale": {"domain": ["RSI","RSI-based MA"], "range": ["M-49,-4.5H85V4.5H-49Z","M-162,-4.5H85V4.5H-162Z"]}, "legend": null},
  "fill": {"field": "name", "type": "nominal", "scale": {"domain": ["RSI","RSI-based MA"], "range": ["#7e57c2","#fdd835"]}, "legend": null}}},
{"data": {"name": "tags"}, "transform": [{"filter": "datum.pane == 'rsi'"}],
 "mark": {"type": "text", "align": "right", "baseline": "middle", "dx": -10, "fontSize": 8.5, "clip": false},
 "encoding": {"x": {"datum":{"year":2026,"month":10,"date":14,"hours":21,"utc":true},"type":"temporal","scale":{"type":"utc","domain":[{"year":2025,"month":10,"date":26,"hours":15,"utc":true},{"year":2026,"month":10,"date":14,"hours":21,"utc":true}]},"axis":null},
  "y": {"field": "at", "type": "quantitative", "scale": {"domain": [24.667, 75.333], "nice": false, "zero": false}},
  "text": {"field": "name"},
  "color": {"condition": {"test": "datum.name == 'RSI-based MA'", "value": "#131722"}, "value": "#ffffff"}}},
{"data": {"name": "tags"}, "transform": [{"filter": "datum.pane == 'rsi'"}],
 "mark": {"type": "text", "align": "left", "baseline": "middle", "dx": 15, "fontSize": 8.5, "clip": false},
 "encoding": {"x": {"datum":{"year":2026,"month":10,"date":14,"hours":21,"utc":true},"type":"temporal","scale":{"type":"utc","domain":[{"year":2025,"month":10,"date":26,"hours":15,"utc":true},{"year":2026,"month":10,"date":14,"hours":21,"utc":true}]},"axis":null},
  "y": {"field": "at", "type": "quantitative", "scale": {"domain": [24.667, 75.333], "nice": false, "zero": false}},
  "text": {"field": "label"},
  "color": {"condition": {"test": "datum.name == 'RSI-based MA'", "value": "#131722"}, "value": "#ffffff"}}}
]
},
{
"width": 817, "height": 31,
"data": {"name": "w"},
"layer": [
{"mark": {"type": "line", "color": "#ef5350", "opacity": 0.5, "strokeWidth": 1, "clip": true},
 "encoding": {"x": {"field":"date","type":"temporal","scale":{"type":"utc","domain":[{"year":2025,"month":10,"date":26,"hours":15,"utc":true},{"year":2026,"month":10,"date":14,"hours":21,"utc":true}]},"axis":null},
  "y": {"field": "adx", "type": "quantitative", "scale": {"domain": [10.469, 20.156], "nice": false, "zero": false},
   "axis": {"orient": "right", "values": [20], "labelExpr": "replace(format(datum.value, '.2f'), '.', ',')", "title": null, "ticks": false, "grid": false, "domainColor": "#b2b5be", "labelPadding": 15, "labelFontSize": 10.5, "labelColor": "#131722", "labelAlign": "left", "labelOverlap": false, "labelFont": "DejaVu Sans"}}}},
{"data": {"values": [{}]}, "mark": {"type": "rule", "color": "#b2b5be", "strokeWidth": 1, "clip": false},
 "encoding": {"x": {"datum":{"year":2025,"month":10,"date":26,"hours":15,"utc":true},"type":"temporal","scale":{"type":"utc","domain":[{"year":2025,"month":10,"date":26,"hours":15,"utc":true},{"year":2026,"month":10,"date":14,"hours":21,"utc":true}]},"axis":null},
  "x2": {"datum": {"year":2026,"month":12,"date":8,"utc":true}},
  "y": {"datum": 10.469, "type": "quantitative", "scale": {"domain": [10.469, 20.156], "nice": false, "zero": false}}}},
{"data": {"name": "tags"}, "transform": [{"filter": "datum.pane == 'adx'"}],
 "mark": {"type": "point", "filled": true, "size": 4, "opacity": 1, "strokeWidth": 0, "clip": false, "shape": "M-59,-4.5H85V4.5H-59Z", "fill": "#f23645"},
 "encoding": {"x": {"datum":{"year":2026,"month":10,"date":14,"hours":21,"utc":true},"type":"temporal","scale":{"type":"utc","domain":[{"year":2025,"month":10,"date":26,"hours":15,"utc":true},{"year":2026,"month":10,"date":14,"hours":21,"utc":true}]},"axis":null},
  "y": {"field": "at", "type": "quantitative", "scale": {"domain": [10.469, 20.156], "nice": false, "zero": false}}}},
{"data": {"name": "tags"}, "transform": [{"filter": "datum.pane == 'adx'"}],
 "mark": {"type": "text", "align": "right", "baseline": "middle", "dx": -10, "fontSize": 8.5, "color": "#ffffff", "clip": false},
 "encoding": {"x": {"datum":{"year":2026,"month":10,"date":14,"hours":21,"utc":true},"type":"temporal","scale":{"type":"utc","domain":[{"year":2025,"month":10,"date":26,"hours":15,"utc":true},{"year":2026,"month":10,"date":14,"hours":21,"utc":true}]},"axis":null},
  "y": {"field": "at", "type": "quantitative", "scale": {"domain": [10.469, 20.156], "nice": false, "zero": false}},
  "text": {"field": "name"}}},
{"data": {"name": "tags"}, "transform": [{"filter": "datum.pane == 'adx'"}],
 "mark": {"type": "text", "align": "left", "baseline": "middle", "dx": 15, "fontSize": 8.5, "color": "#ffffff", "clip": false},
 "encoding": {"x": {"datum":{"year":2026,"month":10,"date":14,"hours":21,"utc":true},"type":"temporal","scale":{"type":"utc","domain":[{"year":2025,"month":10,"date":26,"hours":15,"utc":true},{"year":2026,"month":10,"date":14,"hours":21,"utc":true}]},"axis":null},
  "y": {"field": "at", "type": "quantitative", "scale": {"domain": [10.469, 20.156], "nice": false, "zero": false}},
  "text": {"field": "label"}}}
]
},
{
"width": 817, "height": 51,
"data": {"name": "w"},
"layer": [
{"data": {"values": [{}]}, "mark": {"type": "rule", "color": "#b2b5be", "strokeDash": [4, 4], "strokeWidth": 1, "opacity": 0.7},
 "encoding": {"y": {"datum": 0, "type": "quantitative", "scale": {"domain": [-0.1458, 0.1226], "nice": false, "zero": false},
   "axis": {"orient": "right", "values": [0], "labelExpr": "replace(format(datum.value, '.2f'), '.', ',')", "title": null, "ticks": false, "grid": false, "domainColor": "#b2b5be", "labelPadding": 15, "labelFontSize": 10.5, "labelColor": "#131722", "labelAlign": "left", "labelOverlap": false, "labelFont": "DejaVu Sans"}}}},
{"mark": {"type": "line", "color": "#43a047", "opacity": 0.6, "strokeWidth": 1, "clip": true},
 "encoding": {"x": {"field":"date","type":"temporal","scale":{"type":"utc","domain":[{"year":2025,"month":10,"date":26,"hours":15,"utc":true},{"year":2026,"month":10,"date":14,"hours":21,"utc":true}]},"axis":null},
  "y": {"field": "cmf", "type": "quantitative", "scale": {"domain": [-0.1458, 0.1226], "nice": false, "zero": false}}}},
{"data": {"values": [{}]}, "mark": {"type": "rule", "color": "#b2b5be", "strokeWidth": 1, "clip": false},
 "encoding": {"x": {"datum":{"year":2025,"month":10,"date":26,"hours":15,"utc":true},"type":"temporal","scale":{"type":"utc","domain":[{"year":2025,"month":10,"date":26,"hours":15,"utc":true},{"year":2026,"month":10,"date":14,"hours":21,"utc":true}]},"axis":null},
  "x2": {"datum": {"year":2026,"month":12,"date":8,"utc":true}},
  "y": {"datum": -0.1458, "type": "quantitative", "scale": {"domain": [-0.1458, 0.1226], "nice": false, "zero": false}}}},
{"data": {"name": "tags"}, "transform": [{"filter": "datum.pane == 'cmf'"}],
 "mark": {"type": "point", "filled": true, "size": 4, "opacity": 1, "strokeWidth": 0, "clip": false, "shape": "M-60,-4.5H85V4.5H-60Z", "fill": "#43a047"},
 "encoding": {"x": {"datum":{"year":2026,"month":10,"date":14,"hours":21,"utc":true},"type":"temporal","scale":{"type":"utc","domain":[{"year":2025,"month":10,"date":26,"hours":15,"utc":true},{"year":2026,"month":10,"date":14,"hours":21,"utc":true}]},"axis":null},
  "y": {"field": "at", "type": "quantitative", "scale": {"domain": [-0.1458, 0.1226], "nice": false, "zero": false}}}},
{"data": {"name": "tags"}, "transform": [{"filter": "datum.pane == 'cmf'"}],
 "mark": {"type": "text", "align": "right", "baseline": "middle", "dx": -10, "fontSize": 8.5, "color": "#ffffff", "clip": false},
 "encoding": {"x": {"datum":{"year":2026,"month":10,"date":14,"hours":21,"utc":true},"type":"temporal","scale":{"type":"utc","domain":[{"year":2025,"month":10,"date":26,"hours":15,"utc":true},{"year":2026,"month":10,"date":14,"hours":21,"utc":true}]},"axis":null},
  "y": {"field": "at", "type": "quantitative", "scale": {"domain": [-0.1458, 0.1226], "nice": false, "zero": false}},
  "text": {"field": "name"}}},
{"data": {"name": "tags"}, "transform": [{"filter": "datum.pane == 'cmf'"}],
 "mark": {"type": "text", "align": "left", "baseline": "middle", "dx": 15, "fontSize": 8.5, "color": "#ffffff", "clip": false},
 "encoding": {"x": {"datum":{"year":2026,"month":10,"date":14,"hours":21,"utc":true},"type":"temporal","scale":{"type":"utc","domain":[{"year":2025,"month":10,"date":26,"hours":15,"utc":true},{"year":2026,"month":10,"date":14,"hours":21,"utc":true}]},"axis":null},
  "y": {"field": "at", "type": "quantitative", "scale": {"domain": [-0.1458, 0.1226], "nice": false, "zero": false}},
  "text": {"field": "label"}}}
]
},
{
"width": 817, "height": 65,
"data": {"name": "w"},
"layer": [
{"mark": {"type": "line", "color": "#e53935", "opacity": 0.65, "strokeWidth": 1, "clip": true},
 "encoding": {"x": {"field":"date","type":"temporal","scale":{"type":"utc","domain":[{"year":2025,"month":10,"date":26,"hours":15,"utc":true},{"year":2026,"month":10,"date":14,"hours":21,"utc":true}]},
   "axis": {"values": [{"year":2025,"month":11,"date":3,"utc":true},{"year":2026,"month":1,"date":5,"utc":true},{"year":2026,"month":3,"date":2,"utc":true},{"year":2026,"month":5,"date":4,"utc":true},{"year":2026,"month":7,"date":6,"utc":true},{"year":2026,"month":9,"date":7,"utc":true}],
    "labelExpr": "utcmonth(datum.value) == 0 ? utcFormat(datum.value, '%Y') : ['Gen','Feb','Mar','Apr','Mag','Giu','Lug','Ago','Set','Ott','Nov','Dic'][utcmonth(datum.value)]",
    "labelFontWeight": {"condition": {"test": "utcmonth(datum.value) == 0", "value": "bold"}, "value": "normal"},
    "domain": false, "ticks": false, "grid": false, "title": null, "labelFontSize": 10, "labelColor": "#131722", "labelPadding": 1, "labelFlush": false, "labelOverlap": false, "labelFont": "DejaVu Sans"}},
  "y": {"field": "atr", "type": "quantitative", "scale": {"domain": [3.499, 5.0], "nice": false, "zero": false},
   "axis": {"orient": "right", "values": [5, 4], "labelExpr": "replace(format(datum.value, '.4f'), '.', ',')", "title": null, "ticks": false, "grid": false, "domainColor": "#b2b5be", "labelPadding": 15, "labelFontSize": 10.5, "labelColor": "#131722", "labelAlign": "left", "labelOverlap": false, "labelFont": "DejaVu Sans"}}}},
{"data": {"values": [{}]}, "mark": {"type": "rule", "color": "#b2b5be", "strokeWidth": 1, "clip": false},
 "encoding": {"x": {"datum":{"year":2025,"month":10,"date":26,"hours":15,"utc":true},"type":"temporal","scale":{"type":"utc","domain":[{"year":2025,"month":10,"date":26,"hours":15,"utc":true},{"year":2026,"month":10,"date":14,"hours":21,"utc":true}]}},
  "x2": {"datum": {"year":2026,"month":12,"date":8,"utc":true}},
  "y": {"datum": 3.499, "type": "quantitative", "scale": {"domain": [3.499, 5.0], "nice": false, "zero": false}}}},
{"data": {"values": [{}]}, "mark": {"type": "rule", "color": "#b2b5be", "strokeWidth": 1, "clip": false},
 "encoding": {"x": {"datum":{"year":2026,"month":10,"date":14,"hours":21,"utc":true},"type":"temporal","scale":{"type":"utc","domain":[{"year":2025,"month":10,"date":26,"hours":15,"utc":true},{"year":2026,"month":10,"date":14,"hours":21,"utc":true}]}},
  "y": {"datum": 3.499, "type": "quantitative", "scale": {"domain": [3.499, 5.0], "nice": false, "zero": false}},
  "y2": {"datum": 3.2}}},
{"data": {"name": "tags"}, "transform": [{"filter": "datum.pane == 'atr'"}],
 "mark": {"type": "point", "filled": true, "size": 4, "opacity": 1, "strokeWidth": 0, "clip": false, "shape": "M-56,-4.5H96V4.5H-56Z", "fill": "#b71c1c"},
 "encoding": {"x": {"datum":{"year":2026,"month":10,"date":14,"hours":21,"utc":true},"type":"temporal","scale":{"type":"utc","domain":[{"year":2025,"month":10,"date":26,"hours":15,"utc":true},{"year":2026,"month":10,"date":14,"hours":21,"utc":true}]}},
  "y": {"field": "at", "type": "quantitative", "scale": {"domain": [3.499, 5.0], "nice": false, "zero": false}}}},
{"data": {"name": "tags"}, "transform": [{"filter": "datum.pane == 'atr'"}],
 "mark": {"type": "text", "align": "right", "baseline": "middle", "dx": -10, "fontSize": 8.5, "color": "#ffffff", "clip": false},
 "encoding": {"x": {"datum":{"year":2026,"month":10,"date":14,"hours":21,"utc":true},"type":"temporal","scale":{"type":"utc","domain":[{"year":2025,"month":10,"date":26,"hours":15,"utc":true},{"year":2026,"month":10,"date":14,"hours":21,"utc":true}]}},
  "y": {"field": "at", "type": "quantitative", "scale": {"domain": [3.499, 5.0], "nice": false, "zero": false}},
  "text": {"field": "name"}}},
{"data": {"name": "tags"}, "transform": [{"filter": "datum.pane == 'atr'"}],
 "mark": {"type": "text", "align": "left", "baseline": "middle", "dx": 15, "fontSize": 8.5, "color": "#ffffff", "clip": false},
 "encoding": {"x": {"datum":{"year":2026,"month":10,"date":14,"hours":21,"utc":true},"type":"temporal","scale":{"type":"utc","domain":[{"year":2025,"month":10,"date":26,"hours":15,"utc":true},{"year":2026,"month":10,"date":14,"hours":21,"utc":true}]}},
  "y": {"field": "at", "type": "quantitative", "scale": {"domain": [3.499, 5.0], "nice": false, "zero": false}},
  "text": {"field": "label"}}}
]
}
]
}
